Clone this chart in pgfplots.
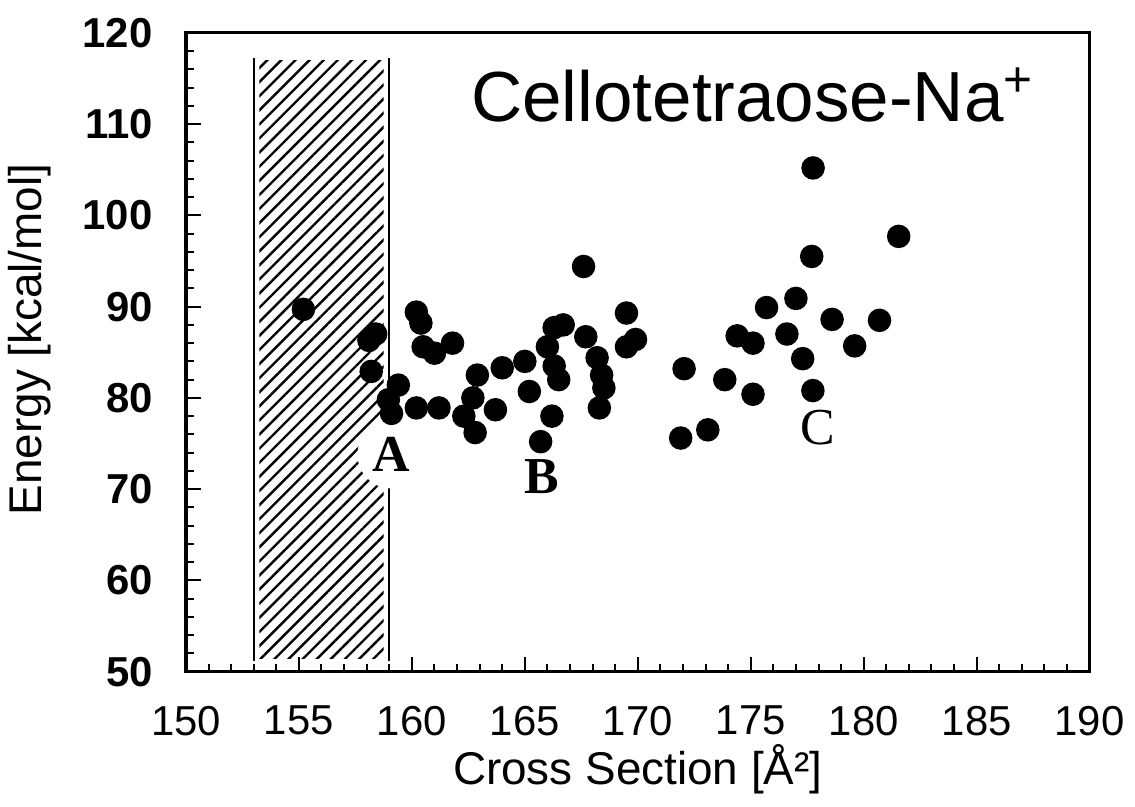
\documentclass[border=0pt]{standalone}
\usepackage{pgfplots}
\pgfplotsset{compat=1.18}
\usepackage{fontspec}
\setmainfont{Liberation Sans}
\newfontfamily\seriffont{Liberation Serif}
\usetikzlibrary{patterns.meta}

\pgfplotstableread{
x y
155.2 89.7
158.1 86.3
158.4 87.0
158.2 82.9
159.4 81.4
158.96 79.8
159.1 78.3
160.2 78.9
161.2 78.9
160.4 88.2
160.2 89.4
160.5 85.6
161.0 84.9
161.8 86.0
162.9 82.5
164.0 83.3
165.0 84.0
162.7 80.0
162.3 78.0
162.8 76.2
163.7 78.7
165.2 80.7
169.5 89.3
166.3 87.7
166.7 88.0
166.0 85.6
167.7 86.7
166.3 83.5
166.5 82.0
166.2 78.0
165.7 75.2
167.6 94.4
168.2 84.4
168.4 82.5
168.5 81.1
168.3 78.9
169.5 85.6
169.9 86.4
172.05 83.2
171.9 75.6
173.1 76.5
173.85 82.0
174.4 86.8
175.1 86.0
175.1 80.4
175.7 89.9
176.6 87.0
177.0 90.9
177.3 84.3
177.75 80.8
177.7 95.5
177.76 105.2
178.6 88.6
179.6 85.7
180.7 88.5
181.55 97.7
}\datatable

\begin{document}
\begin{tikzpicture}
\begin{axis}[
  scale only axis, width=7.965cm, height=5.63cm,
  xmin=150, xmax=190, ymin=50, ymax=120,
  xtick={150,155,...,190}, ytick={50,60,...,120},
  minor x tick num=4, minor y tick num=4,
  tick pos=left, tick align=inside,
  major tick length=0.13cm, minor tick length=0.07cm,
  axis line style={line width=0.8pt},
  every tick/.style={black, line width=0.5pt},
  xlabel={Cross Section [Å²]},
  ylabel={Energy [kcal/mol]},
  label style={font=\fontsize{11.5}{13}\selectfont},
  xlabel style={at={(axis description cs:0.5,-0.153)}, anchor=center},
  ylabel style={at={(axis description cs:-0.1726,0.52)}, anchor=center},
  tick label style={font=\fontsize{10.5}{12}\selectfont},
  yticklabel style={font=\fontsize{10.5}{12}\selectfont\bfseries, xshift=-0.17cm},
  xticklabel style={yshift=-0.18cm},
  /pgf/number format/assume math mode=true,
  clip=false,
]
\fill[pattern={Lines[angle=45,distance=2.5pt,line width=0.6pt]}]
  (axis cs:153.25,51.4) rectangle (axis cs:158.75,117);
\draw[line width=0.5pt] (axis cs:153,51.2) -- (axis cs:153,117.3);
\draw[line width=0.5pt] (axis cs:159,51.2) -- (axis cs:159,117.3);
\node[circle, fill=white, minimum size=0.6cm, inner sep=0pt,
      font=\seriffont\fontsize{13}{15}\selectfont\bfseries] at (axis cs:159.1,73.8) {A};
\addplot[only marks, mark=*, mark size=2.75pt, black] table[x=x,y=y] {\datatable};
\node[font=\seriffont\fontsize{13}{15}\selectfont\bfseries] at (axis cs:165.75,71.4) {B};
\node[font=\seriffont\fontsize{13}{15}\selectfont] at (axis cs:177.96,76.7) {C};
\node[font=\fontsize{17.8}{20}\selectfont] at (axis cs:175.1,113.2) {Cellotetraose-Na\textsuperscript{+}};
\end{axis}
\pgfresetboundingbox
\path[use as bounding box] (-1.639cm,-1.19cm) rectangle (8.365cm,5.92cm);
\end{tikzpicture}
\end{document}
